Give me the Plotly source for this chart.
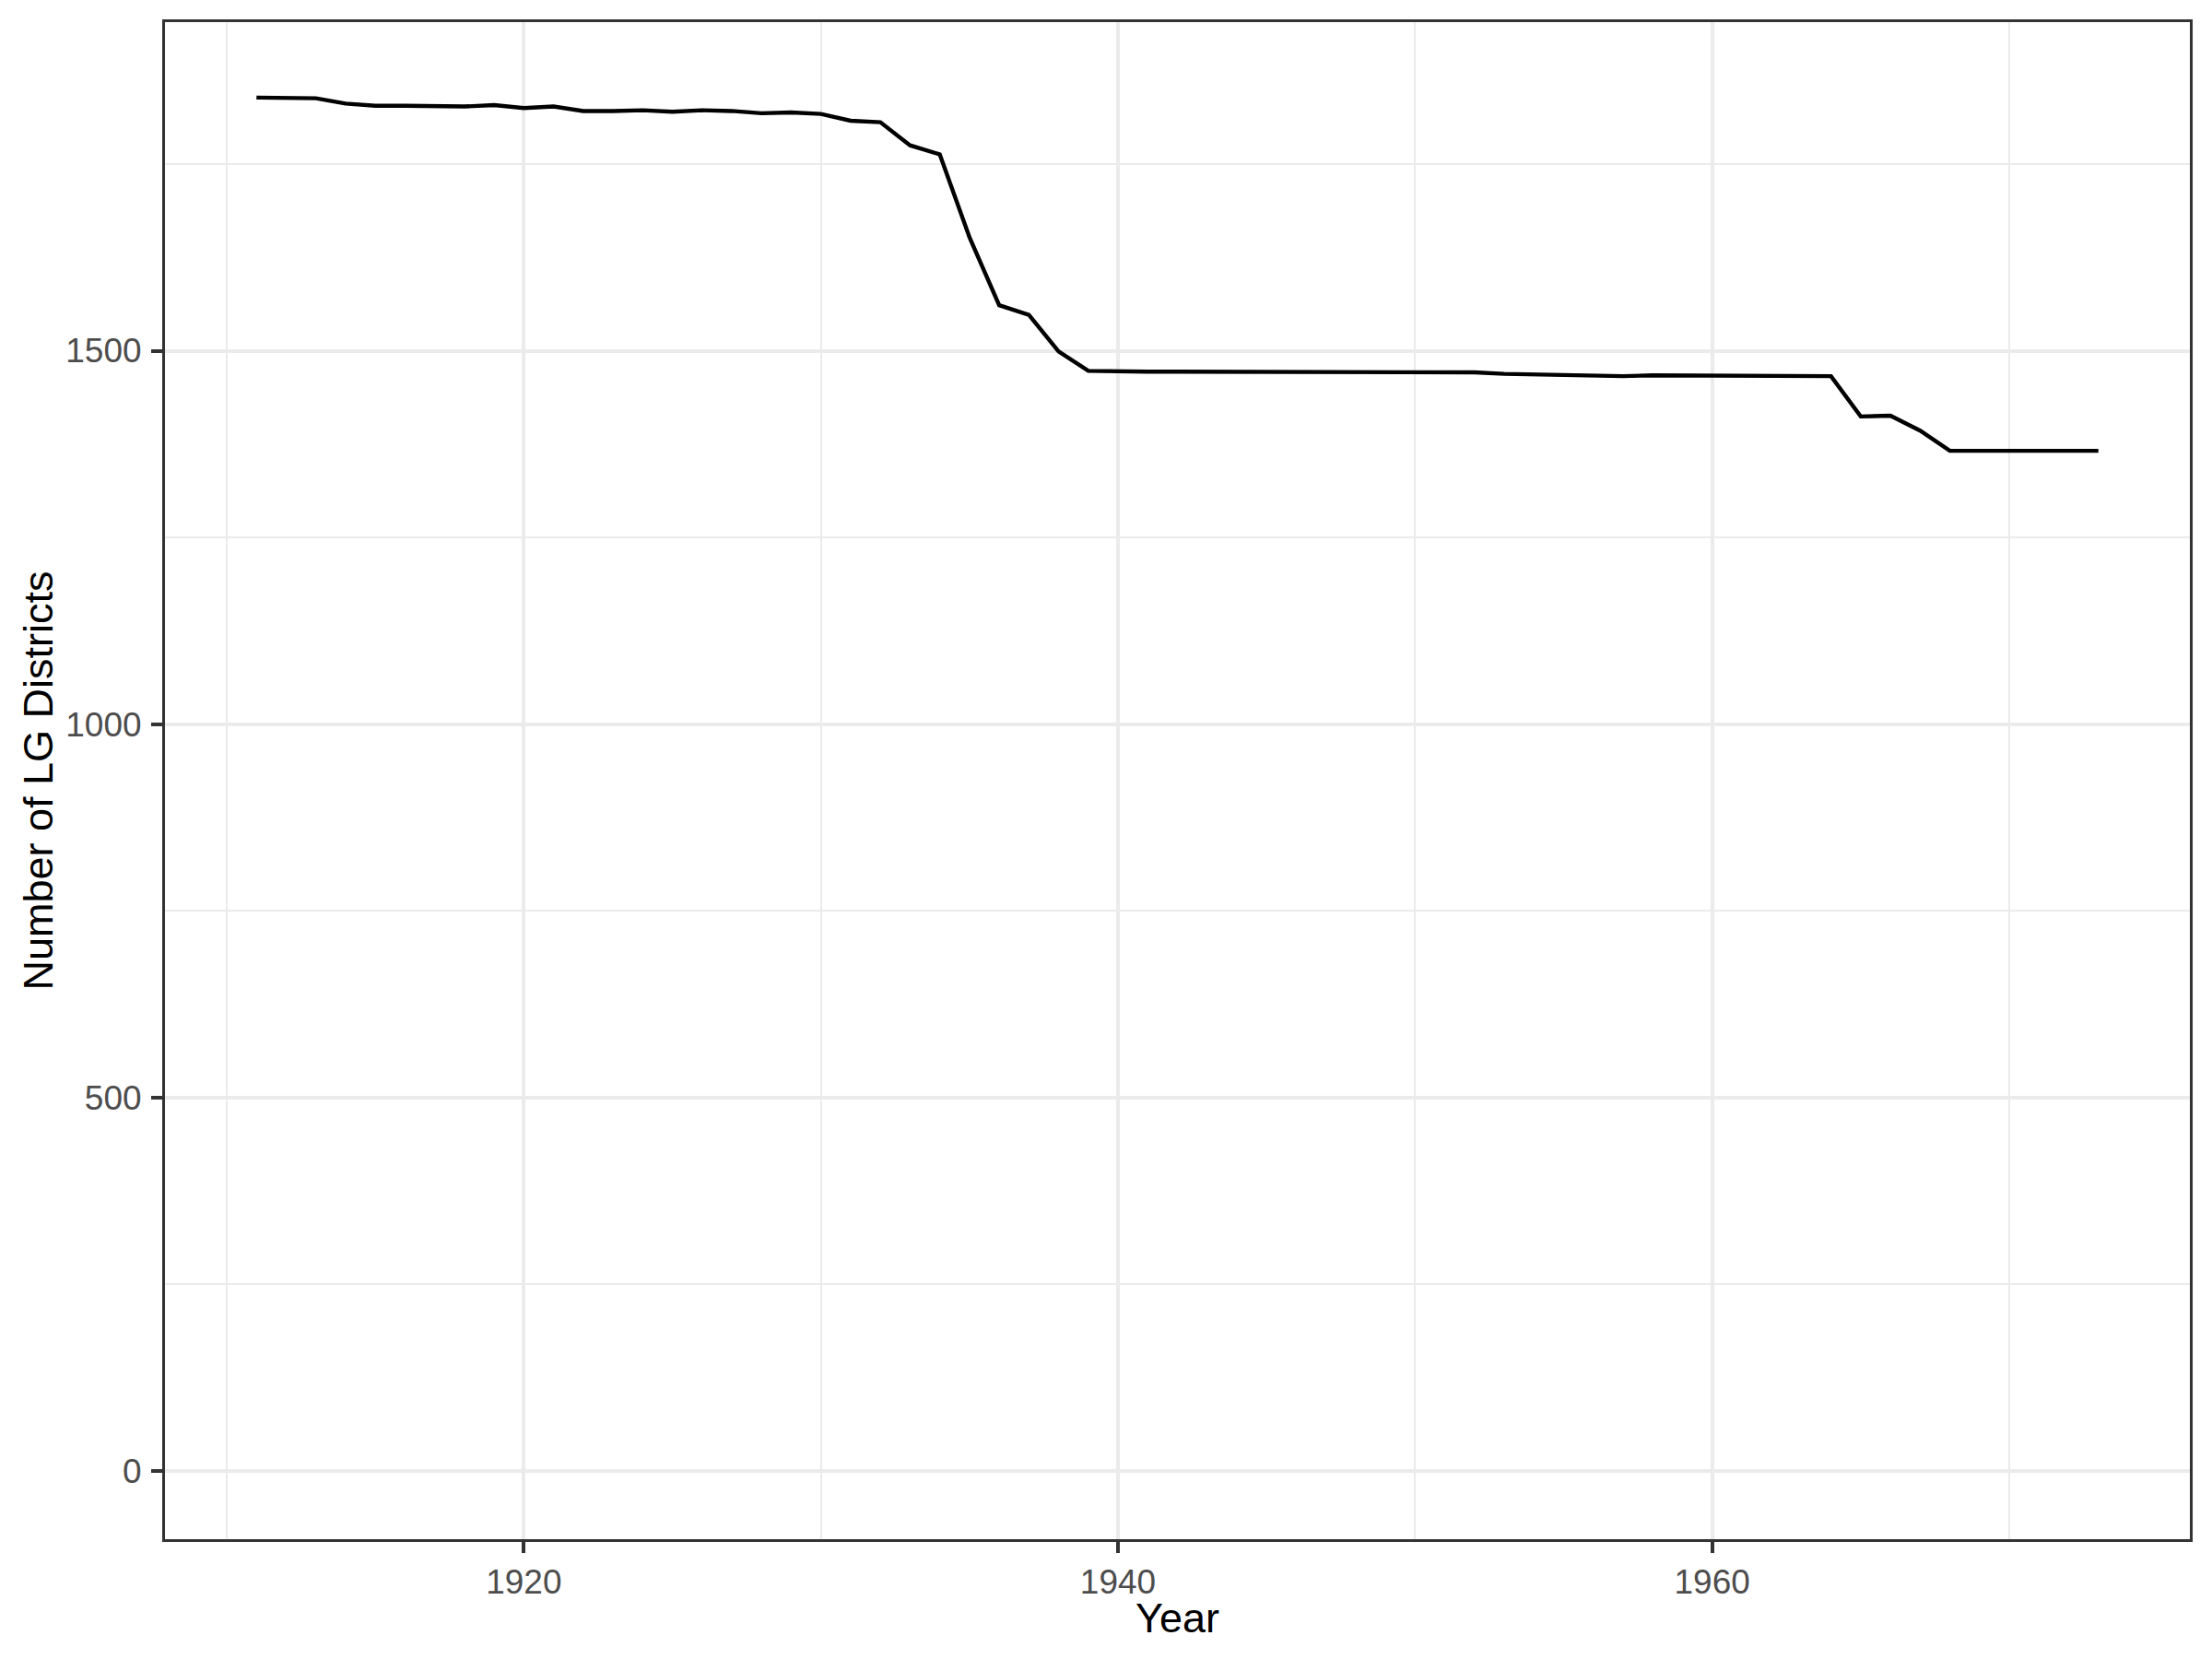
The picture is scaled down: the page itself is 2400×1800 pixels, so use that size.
import plotly.graph_objects as go

# LG districts per year
years = list(range(1911, 1974))
districts = [
    1839, 1839, 1838, 1831, 1828, 1828, 1827, 1827, 1829, 1825,   # 1911-1920
    1827, 1821, 1821, 1822, 1820, 1822, 1821, 1818, 1819, 1817,   # 1921-1930
    1808, 1806, 1775, 1763, 1652, 1561, 1548, 1499, 1473, 1472,   # 1931-1940
    1472, 1472, 1472, 1472, 1472, 1472, 1472, 1472, 1472, 1472,   # 1941-1950
    1471, 1471, 1469, 1468, 1468, 1466, 1466, 1467, 1467, 1467,   # 1951-1960
    1466, 1466, 1466, 1466, 1412, 1413, 1393, 1366, 1366, 1366,   # 1961-1970
    1366, 1366, 1366,                                             # 1971-1973
]

x_ticks = [1920, 1940, 1960]
y_ticks = [0, 500, 1000, 1500]

FONT = "Liberation Sans, Arial, sans-serif"
GRID = "#EBEBEB"
DARK = "#333333"

fig = go.Figure()
fig.add_trace(go.Scatter(
    x=years,
    y=districts,
    mode="lines",
    line=dict(color="black", width=4.4),
    showlegend=False,
    hoverinfo="skip",
))

axis_common = dict(
    showline=True,
    mirror=True,
    linecolor=DARK,
    linewidth=3,
    showgrid=True,
    gridcolor=GRID,
    gridwidth=4,
    zeroline=False,
    ticks="outside",
    ticklen=12,
    tickwidth=3.5,
    tickcolor=DARK,
    tickfont=dict(family=FONT, size=37, color="#4D4D4D"),
)

fig.update_xaxes(
    range=[1907.92, 1976.08],
    tickmode="array",
    tickvals=x_ticks,
    ticklabelstandoff=0,
    minor=dict(showgrid=True, gridcolor=GRID, gridwidth=2, dtick=10, tick0=1910, ticks=""),
    **axis_common,
)
fig.update_yaxes(
    range=[-91.3, 1940],
    tickmode="array",
    tickvals=y_ticks,
    ticklabelstandoff=3,
    minor=dict(showgrid=True, gridcolor=GRID, gridwidth=2, dtick=250, tick0=0, ticks=""),
    title=dict(text="Number of LG Districts", font=dict(family=FONT, size=45, color="black"), standoff=0),
    **axis_common,
)

# x title as an annotation so it can sit closer to the tick labels
fig.add_annotation(
    text="Year",
    xref="paper", yref="paper",
    x=0.5, y=0,
    xanchor="center", yanchor="middle",
    yshift=-85,
    showarrow=False,
    font=dict(family=FONT, size=45, color="black"),
)

# the page adds an 8px body margin, so the plot area is placed 8px up/left
fig.update_layout(
    width=2400,
    height=1800,
    margin=dict(l=171, r=32, t=16, b=138, autoexpand=False),
    plot_bgcolor="white",
    paper_bgcolor="white",
)

fig.write_html("out.html")
